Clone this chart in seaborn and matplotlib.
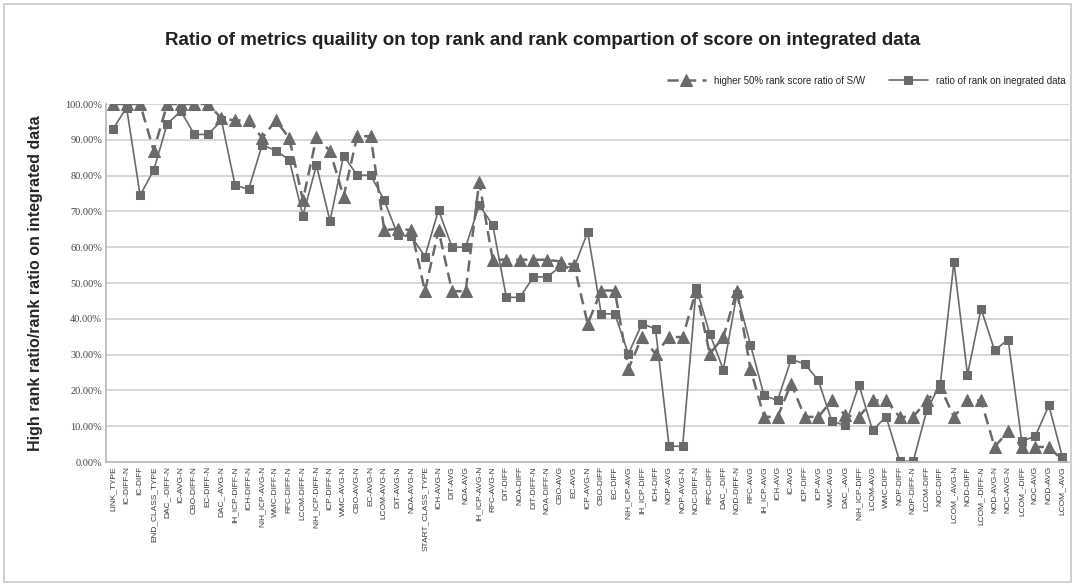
import pandas as pd
import numpy as np
import matplotlib
matplotlib.use('Agg')
import matplotlib.pyplot as plt
import seaborn as sns
from matplotlib.ticker import PercentFormatter

sns.set_style('white')
plt.rcParams['font.family'] = ['Liberation Sans', 'DejaVu Sans']

# ---------------------------------------------
# data
# ---------------------------------------------
metrics = [
    'LINK_TYPE', 'IC-DIFF-N', 'IC-DIFF', 'END_CLASS_TYPE', 'DAC_-DIFF-N', 'IC-AVG-N',
    'CBO-DIFF-N', 'EC-DIFF-N', 'DAC_-AVG-N', 'IH_ICP-DIFF-N', 'ICH-DIFF-N', 'NIH_ICP-AVG-N',
    'WMC-DIFF-N', 'RFC-DIFF-N', 'LCOM-DIFF-N', 'NIH_ICP-DIFF-N', 'ICP-DIFF-N', 'WMC-AVG-N',
    'CBO-AVG-N', 'EC-AVG-N', 'LCOM-AVG-N', 'DIT-AVG-N', 'NOA-AVG-N', 'START_CLASS_TYPE',
    'ICH-AVG-N', 'DIT-AVG', 'NOA-AVG', 'IH_ICP-AVG-N', 'RFC-AVG-N', 'DIT-DIFF',
    'NOA-DIFF', 'DIT-DIFF-N', 'NOA-DIFF-N', 'CBO-AVG', 'EC-AVG', 'ICP-AVG-N',
    'CBO-DIFF', 'EC-DIFF', 'NIH_ICP-AVG', 'IH_ICP-DIFF', 'ICH-DIFF', 'NOP-AVG',
    'NOP-AVG-N', 'NOC-DIFF-N', 'RFC-DIFF', 'DAC_-DIFF', 'NOD-DIFF-N', 'RFC-AVG',
    'IH_ICP-AVG', 'ICH-AVG', 'IC-AVG', 'ICP-DIFF', 'ICP-AVG', 'WMC-AVG',
    'DAC_-AVG', 'NIH_ICP-DIFF', 'LCOM-AVG', 'WMC-DIFF', 'NOP-DIFF', 'NOP-DIFF-N',
    'LCOM-DIFF', 'NOC-DIFF', 'LCOM_-AVG-N', 'NOD-DIFF', 'LCOM_-DIFF-N', 'NOD-AVG-N',
    'NOC-AVG-N', 'LCOM_-DIFF', 'NOC-AVG', 'NOD-AVG', 'LCOM_-AVG',
]

# higher 50% rank score ratio of S/W (dashed, triangles)
high_ratio = [
    100, 100, 100, 87.0, 100, 100, 100, 100, 96.0, 95.4, 95.4, 90.5,
    95.4, 90.5, 73.1, 90.7, 86.9, 74.1, 91.0, 91.0, 64.8, 65.1, 64.8, 47.7,
    64.8, 47.7, 47.7, 78.2, 56.5, 56.5, 56.5, 56.5, 56.5, 56.0, 55.0, 38.6,
    47.9, 47.9, 26.0, 34.9, 30.2, 34.9, 34.9, 47.9, 30.2, 34.9, 47.9, 26.0,
    12.6, 12.6, 21.9, 12.6, 12.6, 17.2, 13.0, 12.6, 17.2, 17.2, 12.6, 12.6,
    17.2, 20.9, 12.6, 17.2, 17.2, 4.2, 8.6, 4.2, 4.2, 4.2, 0.5,
]

# ratio of rank on integrated data (solid, squares)
rank_ratio = [
    93.0, 99.0, 74.5, 81.5, 94.5, 98.0, 91.5, 91.5, 95.4, 77.3, 76.2, 88.6,
    87.0, 84.4, 68.8, 82.9, 67.3, 85.6, 80.1, 80.1, 73.1, 63.4, 63.0, 57.4,
    70.4, 60.0, 60.0, 71.8, 66.2, 46.0, 46.0, 51.7, 51.7, 54.6, 54.4, 64.2,
    41.4, 41.4, 30.2, 38.6, 37.2, 4.4, 4.4, 48.7, 35.8, 25.8, 47.0, 32.8,
    18.6, 17.2, 28.7, 27.4, 22.8, 11.4, 10.2, 21.6, 8.8, 12.7, 0.2, 0.2,
    14.4, 21.9, 55.8, 24.4, 42.8, 31.2, 34.2, 5.8, 7.2, 15.8, 1.4,
]

df = pd.DataFrame({
    'metric': metrics,
    'high': np.array(high_ratio) / 100,
    'rank': np.array(rank_ratio) / 100,
})

grey = '#6a6a6a'

fig = plt.figure(figsize=(10.75, 5.86), dpi=100)
ax = fig.add_axes([0.0988, 0.2116, 0.8958, 0.6109])

sns.lineplot(data=df, x='metric', y='high', ax=ax, sort=False, color=grey,
             linestyle=(0, (4.5, 2.5)), linewidth=1.8, marker='^', markersize=8.5,
             markeredgecolor=grey, label='higher 50% rank score ratio of S/W')
sns.lineplot(data=df, x='metric', y='rank', ax=ax, sort=False, color=grey,
             linewidth=1.2, marker='s', markersize=5.5,
             markeredgecolor=grey, label='ratio of rank on inegrated data')

ax.set_xlim(-0.5, len(metrics) - 0.5)
ax.set_ylim(0, 1.0)
ax.set_yticks(np.arange(0, 1.01, 0.1))
ax.yaxis.set_major_formatter(PercentFormatter(1.0, decimals=2))
ax.yaxis.grid(True, color='#d4d4d4', linewidth=1.3)
ax.set_axisbelow(True)

ax.set_xticks(range(len(metrics)))
ax.set_xticklabels(metrics, rotation=90, fontsize=6, color='#3c3c3c')
for lbl in ax.get_yticklabels():
    lbl.set_family(['Liberation Serif', 'DejaVu Serif'])
    lbl.set_fontsize(7.5)
    lbl.set_color('#444444')
ax.tick_params(axis='both', length=0, pad=3)

for side in ['top', 'right']:
    ax.spines[side].set_visible(False)
for side in ['left', 'bottom']:
    ax.spines[side].set_color('#bdbdbd')
    ax.spines[side].set_linewidth(1.3)

ax.set_xlabel('')
ax.set_ylabel('High rank ratio/rank ratio on integrated data', fontsize=11.5,
              fontweight='bold', labelpad=16)

fig.suptitle('Ratio of metrics quaility on top rank and rank compartion of score on integrated data',
             x=0.505, y=0.945, fontsize=13.5, fontweight='bold', color='#222222')

ax.legend(loc='lower right', bbox_to_anchor=(1.0, 1.04), ncol=2, frameon=False,
          fontsize=7, handlelength=4, columnspacing=2.5, borderaxespad=0)

# light frame round the whole chart
fig.patches.append(plt.Rectangle((0.004, 0.006), 0.992, 0.988, transform=fig.transFigure,
                                 fill=False, edgecolor='#c8c8c8', linewidth=1.2))

plt.savefig('out.png', dpi=100)
